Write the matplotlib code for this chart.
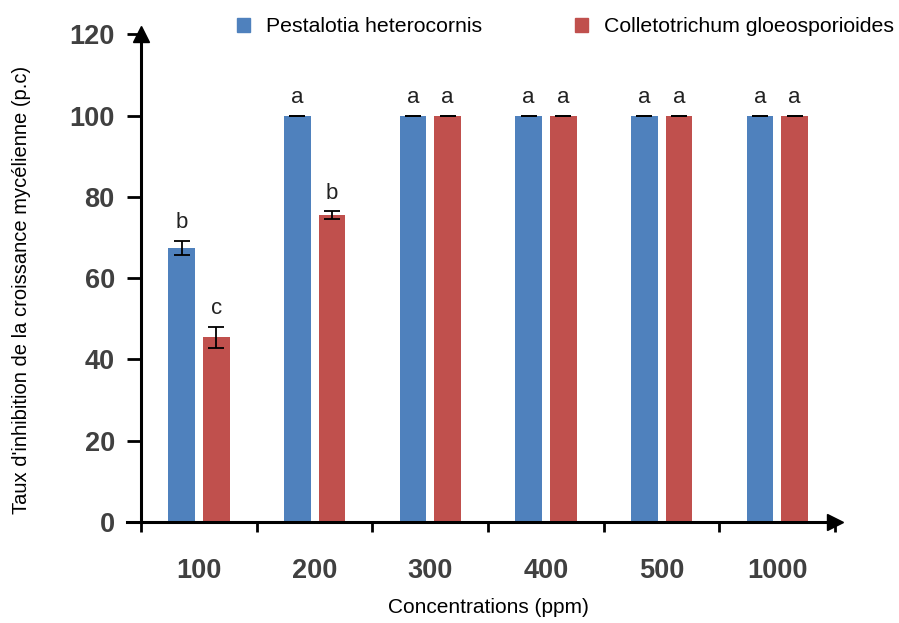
import numpy as np
import matplotlib.pyplot as plt
from matplotlib.patches import Patch

# Inhibition rates per concentration for the two fungi
concentrations = ["100", "200", "300", "400", "500", "1000"]
pestalotia = [67.5, 100, 100, 100, 100, 100]
pestalotia_err = [1.7, 0, 0, 0, 0, 0]
colleto = [45.5, 75.5, 100, 100, 100, 100]
colleto_err = [2.6, 1.0, 0, 0, 0, 0]
letters_p = ["b", "a", "a", "a", "a", "a"]
letters_c = ["c", "b", "a", "a", "a", "a"]

plt.rcParams['font.family'] = ['Liberation Sans', 'DejaVu Sans']
blue = "#4F81BD"
red = "#C0504D"

fig = plt.figure(figsize=(8.99, 6.23), dpi=100)
ax = fig.add_axes([0.157, 0.162, 0.772, 0.783])

x = np.arange(len(concentrations))
w = 0.23
off = 0.15
ax.bar(x - off, pestalotia, w, color=blue, zorder=2)
ax.bar(x + off, colleto, w, color=red, zorder=2)
ax.errorbar(x - off, pestalotia, yerr=pestalotia_err, fmt='none', ecolor='black',
            elinewidth=1.3, capsize=6, capthick=1.3, zorder=3)
ax.errorbar(x + off, colleto, yerr=colleto_err, fmt='none', ecolor='black',
            elinewidth=1.3, capsize=6, capthick=1.3, zorder=3)

# significance letters
for i in range(len(x)):
    ax.text(x[i] - off, pestalotia[i] + pestalotia_err[i] + 1.8, letters_p[i],
            ha='center', va='bottom', fontsize=16, color='#222222')
    ax.text(x[i] + off, colleto[i] + colleto_err[i] + 1.8, letters_c[i],
            ha='center', va='bottom', fontsize=16, color='#222222')

ax.set_xlim(-0.5, 5.5)
ax.set_ylim(0, 120)
for s in ['top', 'right']:
    ax.spines[s].set_visible(False)
ax.spines['left'].set_linewidth(2.2)
ax.spines['bottom'].set_linewidth(2.2)
# x axis extends slightly left of the y axis, arrows at the ends
ax.plot([-0.62, -0.5], [0, 0], color='black', lw=2.2, clip_on=False, zorder=4)
ax.plot([5.5], [0], marker='>', color='black', markersize=11, clip_on=False, zorder=4)
ax.plot([-0.5], [120], marker='^', color='black', markersize=11, clip_on=False, zorder=4)

ax.set_yticks([0, 20, 40, 60, 80, 100, 120])
ax.tick_params(axis='y', length=10, width=2, direction='out', pad=9,
               labelsize=19.5, labelcolor='#404040')
for lab in ax.get_yticklabels():
    lab.set_fontweight('bold')

ax.set_xticks(x)
ax.set_xticklabels(concentrations, fontsize=19.5, fontweight='bold', color='#404040')
ax.tick_params(axis='x', which='major', length=0, pad=26)
ax.set_xticks(np.arange(-0.5, 5.6, 1.0), minor=True)
ax.tick_params(axis='x', which='minor', length=7, width=2, direction='out')

ax.set_ylabel("Taux d'inhibition de la croissance mycélienne (p.c)", fontsize=14.5)
ax.yaxis.set_label_coords(-0.158, 0.475)
ax.set_xlabel("Concentrations (ppm)", fontsize=15)
ax.xaxis.set_label_coords(0.5, -0.155)

handles = [Patch(color=blue), Patch(color=red)]
fig.legend(handles, ["Pestalotia heterocornis", "Colletotrichum gloeosporioides"],
           loc='center left', bbox_to_anchor=(0.2636, 0.957), ncol=2, frameon=False,
           fontsize=15.3, handlelength=0.6, handleheight=0.6, handletextpad=0.75,
           columnspacing=4.4, borderpad=0, borderaxespad=0)

fig.savefig("out.png", dpi=100)
